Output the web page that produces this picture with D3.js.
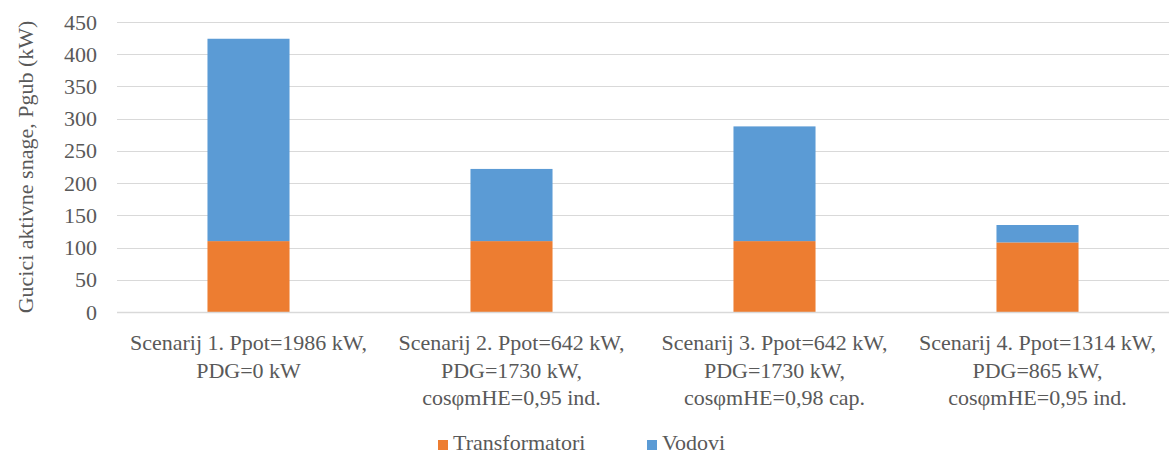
<!DOCTYPE html>
<html>
<head>
<meta charset="utf-8">
<script src="https://cdn.jsdelivr.net/npm/d3@7/dist/d3.min.js"></script>
<style>
  html, body { margin: 0; padding: 0; background: #fff; }
  svg { display: block; }
  svg text { fill: #595959; }
</style>
</head>
<body>
<svg id="chart" width="1175" height="454"></svg>
<script>
// Category labels (each entry is a list of wrapped lines)
const categories = [
  ["Scenarij 1. Ppot=1986 kW,", "PDG=0 kW"],
  ["Scenarij 2. Ppot=642 kW,", "PDG=1730 kW,", "cosφmHE=0,95 ind."],
  ["Scenarij 3. Ppot=642 kW,", "PDG=1730 kW,", "cosφmHE=0,98 cap."],
  ["Scenarij 4. Ppot=1314 kW,", "PDG=865 kW,", "cosφmHE=0,95 ind."]
];
// Losses per scenario (kW)
const transformatori = [110, 110, 110, 108];
const vodovi = [314, 112, 178, 27];
const seriesNames = ["Transformatori", "Vodovi"];
const seriesColors = ["#ED7D31", "#5B9BD5"];
const yTicks = [0, 50, 100, 150, 200, 250, 300, 350, 400, 450];
const yTitle = "Gucici aktivne snage, Pgub (kW)";

const FONT = "'Liberation Serif', 'DejaVu Serif', serif";

const svg = d3.select("#chart");
const margin = { left: 117, right: 6, top: 22, bottom: 142 };
const W = 1175, H = 454;
const innerW = W - margin.left - margin.right;
const innerH = H - margin.top - margin.bottom;

const g = svg.append("g").attr("transform", `translate(${margin.left},${margin.top})`);

const x = d3.scaleBand().domain(d3.range(categories.length)).range([0, innerW]).paddingInner(0.688).paddingOuter(0.344);
const y = d3.scaleLinear().domain([0, 450]).range([innerH, 0]);

// Gridlines
g.append("g")
  .selectAll("line")
  .data(yTicks)
  .join("line")
  .attr("x1", 0).attr("x2", innerW)
  .attr("y1", d => Math.round(y(d)) + 0.5).attr("y2", d => Math.round(y(d)) + 0.5)
  .attr("stroke", "#d9d9d9").attr("stroke-width", 1);

// Y axis labels
const yAxis = d3.axisLeft(y).tickValues(yTicks).tickSize(0).tickPadding(20);
const ya = g.append("g").call(yAxis).attr("font-family", FONT).attr("font-size", 22);
ya.select(".domain").remove();
ya.selectAll("text").attr("fill", "#595959").style("font-family", FONT).style("font-size", "22px");

// Stacked bars
const rows = categories.map((c, i) => ({ i, Transformatori: transformatori[i], Vodovi: vodovi[i] }));
const stack = d3.stack().keys(seriesNames)(rows);
g.append("g").selectAll("g")
  .data(stack)
  .join("g")
  .attr("fill", (d, k) => seriesColors[k])
  .selectAll("rect")
  .data(d => d)
  .join("rect")
  .attr("x", d => x(d.data.i))
  .attr("width", x.bandwidth())
  .attr("y", d => y(d[1]))
  .attr("height", d => y(d[0]) - y(d[1]));

// Baseline
g.append("line")
  .attr("x1", 0).attr("x2", innerW)
  .attr("y1", Math.round(y(0)) + 0.5).attr("y2", Math.round(y(0)) + 0.5)
  .attr("stroke", "#d9d9d9").attr("stroke-width", 1.5);

// Category labels
const xl = g.append("g").selectAll("text")
  .data(categories)
  .join("text")
  .attr("text-anchor", "middle")
  .attr("transform", (d, i) => `translate(${x(i) + x.bandwidth() / 2},${innerH + 38})`)
  .style("font-family", FONT)
  .style("font-size", "22px");
xl.selectAll("tspan")
  .data(d => d)
  .join("tspan")
  .attr("x", 0)
  .attr("dy", (d, j) => j === 0 ? 0 : 27.5)
  .text(d => d);

// Y title
svg.append("text")
  .attr("transform", `translate(33,${margin.top + innerH / 2}) rotate(-90)`)
  .attr("text-anchor", "middle")
  .style("font-family", FONT)
  .style("font-size", "22px")
  .text(yTitle);

// Legend
const legendItems = [
  { name: seriesNames[0], color: seriesColors[0], x: 438 },
  { name: seriesNames[1], color: seriesColors[1], x: 647 }
];
const lg = svg.append("g").selectAll("g").data(legendItems).join("g")
  .attr("transform", d => `translate(${d.x},440)`);
lg.append("rect").attr("width", 10).attr("height", 10).attr("y", 0).attr("fill", d => d.color);
lg.append("text").attr("x", 15).attr("y", 10)
  .style("font-family", FONT).style("font-size", "22px").text(d => d.name);
</script>
</body>
</html>
